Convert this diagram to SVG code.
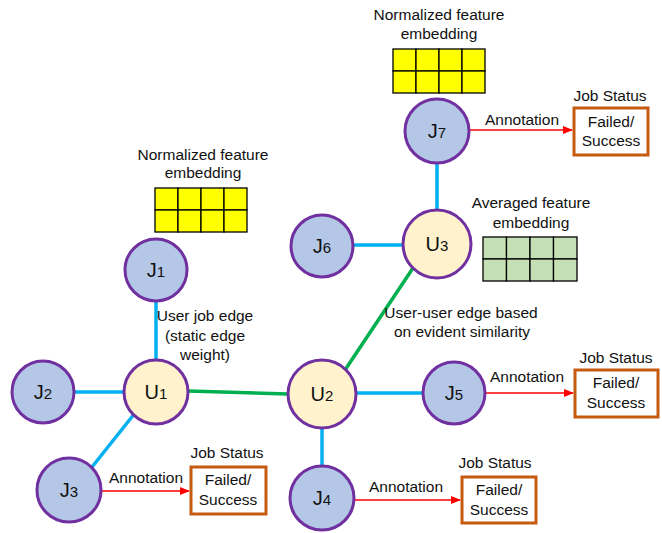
<svg xmlns="http://www.w3.org/2000/svg" width="662" height="533" viewBox="0 0 662 533">
<style>
text{font-family:"Liberation Sans",Arial,sans-serif;fill:#111;text-anchor:middle}
.lbl{font-size:15.5px}
.nl{font-size:20px}
.sub{font-size:15px}
.job{fill:#B4C7E7;stroke:#7030A0;stroke-width:3}
.usr{fill:#FFF2CC;stroke:#7030A0;stroke-width:3}
.be{stroke:#00B0F0;stroke-width:3.5;fill:none}
.ge{stroke:#00B050;stroke-width:3.5;fill:none}
.ann{stroke:#FF0000;stroke-width:1.3;fill:none;marker-end:url(#ah)}
.box{fill:#fff;stroke:#C55A11;stroke-width:3}
.gy{fill:#FFFF00;stroke:#000;stroke-width:1.3}
.gg{fill:#C5E0B4;stroke:#000;stroke-width:1.3}
</style>
<defs>
<marker id="ah" markerWidth="10" markerHeight="10" refX="9" refY="5" orient="auto" markerUnits="userSpaceOnUse">
<path d="M0,1 L10,5 L0,9 z" fill="#FF0000"/>
</marker>
</defs>
<g id="connectors">
<line class="be" x1="437" y1="163" x2="437" y2="210"/>
<line class="be" x1="353" y1="245" x2="402" y2="245"/>
<line class="ge" x1="413" y1="268" x2="345" y2="370"/>
<line class="be" x1="156" y1="301" x2="156" y2="360"/>
<line class="be" x1="74" y1="392" x2="125" y2="392"/>
<line class="be" x1="92" y1="467" x2="135" y2="413"/>
<line class="ge" x1="188" y1="391" x2="288" y2="394"/>
<line class="be" x1="356" y1="393" x2="423" y2="393"/>
<line class="be" x1="322" y1="428" x2="322" y2="466"/>
<line class="ann" x1="469" y1="130" x2="572" y2="130"/>
<line class="ann" x1="485" y1="393" x2="573" y2="393"/>
<line class="ann" x1="353" y1="500" x2="460" y2="500"/>
<line class="ann" x1="101" y1="491" x2="189" y2="491"/>
</g>
<g id="edge-labels">
<text class="lbl" x="205" y="321">User job edge</text>
<text class="lbl" x="205" y="341">(static edge</text>
<text class="lbl" x="205" y="360">weight)</text>
<text class="lbl" x="461" y="318">User-user edge based</text>
<text class="lbl" x="462" y="337">on evident similarity</text>
<text class="lbl" x="522" y="125">Annotation</text>
<text class="lbl" x="527" y="382">Annotation</text>
<text class="lbl" x="406" y="492">Annotation</text>
<text class="lbl" x="146" y="483">Annotation</text>
</g>
<g id="emb-J7">
<text class="lbl" x="439" y="20">Normalized feature</text>
<text class="lbl" x="439" y="39">embedding</text>
<rect class="gy" x="393" y="49" width="23" height="22"/><rect class="gy" x="416" y="49" width="23" height="22"/><rect class="gy" x="439" y="49" width="23" height="22"/><rect class="gy" x="462" y="49" width="23" height="22"/>
<rect class="gy" x="393" y="71" width="23" height="22"/><rect class="gy" x="416" y="71" width="23" height="22"/><rect class="gy" x="439" y="71" width="23" height="22"/><rect class="gy" x="462" y="71" width="23" height="22"/>
</g>
<g id="emb-J1">
<text class="lbl" x="203" y="160">Normalized feature</text>
<text class="lbl" x="203" y="178">embedding</text>
<rect class="gy" x="155" y="188" width="23" height="22"/><rect class="gy" x="178" y="188" width="23" height="22"/><rect class="gy" x="201" y="188" width="23" height="22"/><rect class="gy" x="224" y="188" width="23" height="22"/>
<rect class="gy" x="155" y="210" width="23" height="22"/><rect class="gy" x="178" y="210" width="23" height="22"/><rect class="gy" x="201" y="210" width="23" height="22"/><rect class="gy" x="224" y="210" width="23" height="22"/>
</g>
<g id="emb-U3">
<text class="lbl" x="531" y="208">Averaged feature</text>
<text class="lbl" x="531" y="228">embedding</text>
<rect class="gg" x="483" y="237" width="23.5" height="22"/><rect class="gg" x="506.5" y="237" width="23.5" height="22"/><rect class="gg" x="530" y="237" width="23.5" height="22"/><rect class="gg" x="553.5" y="237" width="23.5" height="22"/>
<rect class="gg" x="483" y="259" width="23.5" height="22"/><rect class="gg" x="506.5" y="259" width="23.5" height="22"/><rect class="gg" x="530" y="259" width="23.5" height="22"/><rect class="gg" x="553.5" y="259" width="23.5" height="22"/>
</g>
<g id="J7"><circle class="job" cx="437" cy="131" r="32"/><text class="nl" x="437" y="138">J<tspan class="sub">7</tspan></text></g>
<g id="U3"><circle class="usr" cx="437" cy="244" r="34"/><text class="nl" x="437" y="251">U<tspan class="sub">3</tspan></text></g>
<g id="J6"><circle class="job" cx="322" cy="246" r="31"/><text class="nl" x="322" y="253">J<tspan class="sub">6</tspan></text></g>
<g id="J1"><circle class="job" cx="156" cy="270" r="31"/><text class="nl" x="156" y="277">J<tspan class="sub">1</tspan></text></g>
<g id="J2"><circle class="job" cx="43" cy="392" r="31"/><text class="nl" x="43" y="399">J<tspan class="sub">2</tspan></text></g>
<g id="U1"><circle class="usr" cx="156" cy="392" r="32"/><text class="nl" x="156" y="399">U<tspan class="sub">1</tspan></text></g>
<g id="U2"><circle class="usr" cx="322" cy="394" r="34"/><text class="nl" x="322" y="401">U<tspan class="sub">2</tspan></text></g>
<g id="J5"><circle class="job" cx="454" cy="393" r="31"/><text class="nl" x="454" y="400">J<tspan class="sub">5</tspan></text></g>
<g id="J3"><circle class="job" cx="69" cy="490" r="32"/><text class="nl" x="69" y="497">J<tspan class="sub">3</tspan></text></g>
<g id="J4"><circle class="job" cx="322" cy="498" r="32"/><text class="nl" x="322" y="505">J<tspan class="sub">4</tspan></text></g>
<g id="status-J7">
<text class="lbl" x="610" y="101">Job Status</text>
<rect class="box" x="574" y="108" width="74" height="47"/>
<text class="lbl" x="611" y="127">Failed/</text><text class="lbl" x="611" y="146">Success</text>
</g>
<g id="status-J5">
<text class="lbl" x="616" y="363">Job Status</text>
<rect class="box" x="575" y="370" width="83" height="47"/>
<text class="lbl" x="616" y="388">Failed/</text><text class="lbl" x="616" y="408">Success</text>
</g>
<g id="status-J4">
<text class="lbl" x="495" y="468">Job Status</text>
<rect class="box" x="462" y="477" width="74" height="46"/>
<text class="lbl" x="499" y="495">Failed/</text><text class="lbl" x="499" y="515">Success</text>
</g>
<g id="status-J3">
<text class="lbl" x="227" y="458">Job Status</text>
<rect class="box" x="191" y="467" width="75" height="47"/>
<text class="lbl" x="228" y="485">Failed/</text><text class="lbl" x="228" y="505">Success</text>
</g>
</svg>
